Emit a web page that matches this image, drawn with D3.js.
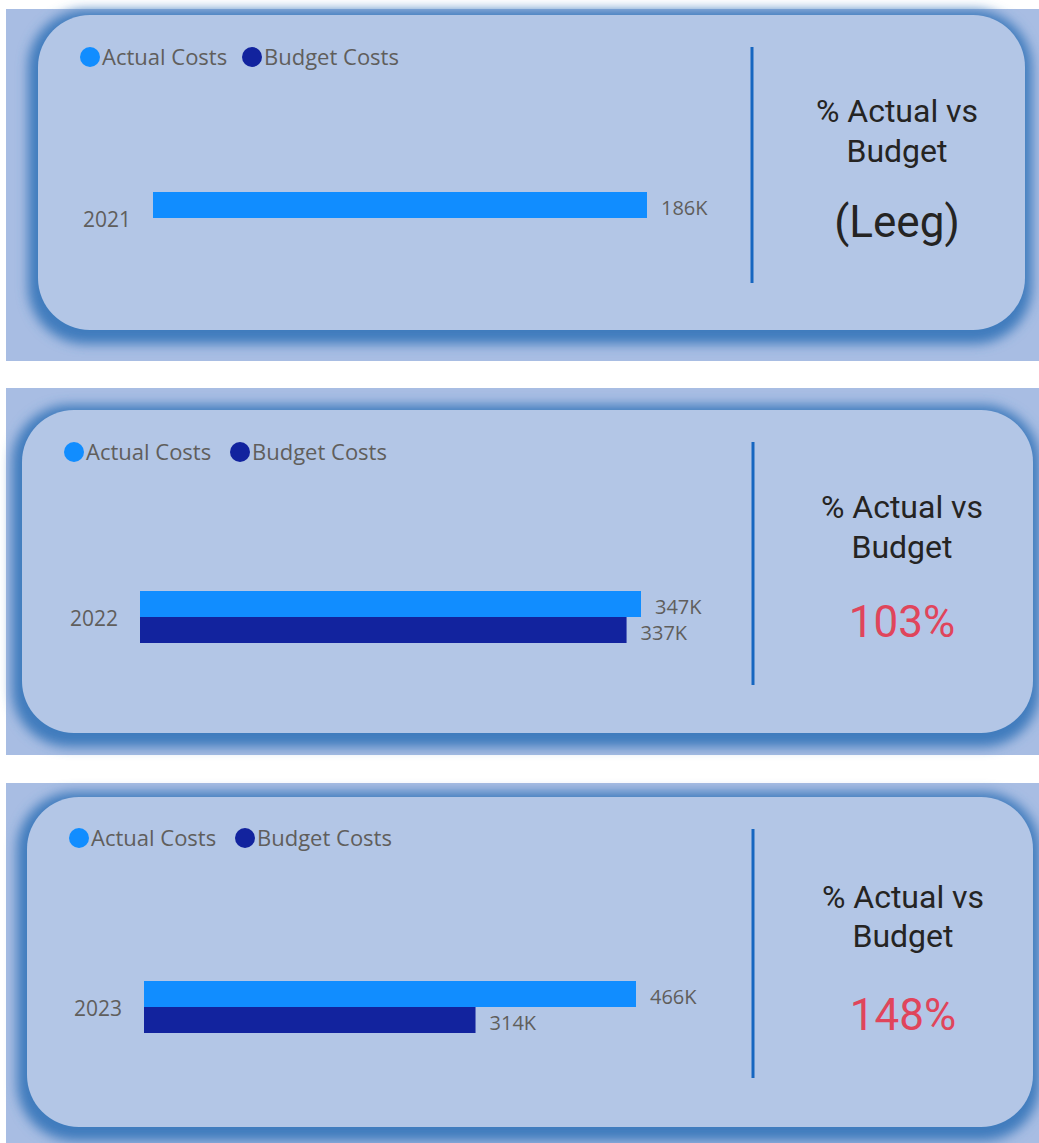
<!DOCTYPE html>
<html>
<head>
<meta charset="utf-8">
<script src="https://cdn.jsdelivr.net/npm/d3@7"></script>
<style>
  body { margin: 0; background: #fff; }
  svg { display: block; }
</style>
</head>
<body>
<div id="chart"></div>
<script>
// data (costs in thousands)
let years = ['2021', '2022', '2023'];
let seriesNames = ['Actual Costs', 'Budget Costs'];
let actualCosts = [186, 347, 466];
let budgetCosts = [null, 337, 314];
let emptyLabel = '(Leeg)';

let width = 1039;
let height = 1143;

let colors = {
  actual: '#118dff',
  budget: '#12239e',
  outer: '#a8bde3',
  card: '#b3c6e6',
  shadow: '#3f7bbd',
  divider: '#1666c0',
  label: '#605e5c',
  title: '#252423',
  pct: '#e0455b'
};

// each card sits a little differently in the screenshot
let panels = [
  {outer: [6, 9, 1033, 352], card: [38, 15, 987, 315], x0: 153, w: 494, band: 192, legX: 90, legY: 57, budX: 252, div: 752, divY: [47, 283], tx: 897, t1: 122, t2: 162, t3: 237},
  {outer: [6, 388, 1033, 367], card: [22, 410, 1011, 323], x0: 140, w: 501, band: 591, legX: 74, legY: 452, budX: 240, div: 753, divY: [442, 685], tx: 902, t1: 518, t2: 558, t3: 637},
  {outer: [6, 783, 1033, 360], card: [27, 797, 1006, 330], x0: 144, w: 492, band: 981, legX: 79, legY: 838, budX: 245, div: 753, divY: [829, 1078], tx: 903, t1: 908, t2: 947, t3: 1030}
];

let svg = d3.select('#chart')
  .append('svg')
  .attr('width', width)
  .attr('height', height);

let defs = svg.append('defs');
defs.append('filter')
  .attr('id', 'glow')
  .attr('x', '-10%').attr('y', '-20%')
  .attr('width', '120%').attr('height', '140%')
  .append('feGaussianBlur')
  .attr('stdDeviation', 6);

years.forEach(function(year, i) {
  let p = panels[i];
  let g = svg.append('g');

  // background strip
  g.append('rect')
    .attr('x', p.outer[0]).attr('y', p.outer[1])
    .attr('width', p.outer[2]).attr('height', p.outer[3])
    .attr('fill', colors.outer);

  // soft dark-blue shadow around the card
  g.append('rect')
    .attr('x', p.card[0] - 10).attr('y', p.card[1] - 5)
    .attr('width', p.card[2] + 17).attr('height', p.card[3] + 19)
    .attr('rx', 58)
    .attr('fill', colors.shadow)
    .attr('filter', 'url(#glow)');

  g.append('rect')
    .attr('x', p.card[0]).attr('y', p.card[1])
    .attr('width', p.card[2]).attr('height', p.card[3])
    .attr('rx', 52)
    .attr('fill', colors.card);

  // legend
  let leg = g.append('g').attr('transform', `translate(0,${p.legY})`);
  [p.legX, p.budX].forEach(function(lx, k) {
    leg.append('circle')
      .attr('cx', lx).attr('cy', 0).attr('r', 10)
      .attr('fill', k === 0 ? colors.actual : colors.budget);
    leg.append('text')
      .attr('x', lx + 12).attr('y', 8)
      .attr('font-family', 'Open Sans, sans-serif')
      .attr('font-size', 22)
      .attr('fill', colors.label)
      .text(seriesNames[k]);
  });

  // bars
  let values = [actualCosts[i], budgetCosts[i]];
  let maxVal = d3.max(values);

  let xScale = d3.scaleLinear()
    .domain([0, maxVal])
    .range([p.x0, p.x0 + p.w]);

  let yOuter = d3.scaleBand()
    .domain([year])
    .range([p.band, p.band + 52]);

  let yInner = d3.scaleBand()
    .domain(seriesNames)
    .range([0, yOuter.bandwidth()]);

  let yAxis = g.append('g')
    .attr('transform', `translate(${p.x0 - 12},0)`)
    .call(d3.axisLeft(yOuter).tickSize(0).tickPadding(10));
  yAxis.select('.domain').remove();
  yAxis.selectAll('text')
    .attr('font-family', 'Open Sans, sans-serif')
    .attr('font-size', 21)
    .attr('dy', '0.45em')
    .attr('fill', colors.label);

  let rows = seriesNames.map(function(s, k) {
    return {series: s, value: values[k], color: k === 0 ? colors.actual : colors.budget};
  }).filter(function(d) { return d.value != null; });

  g.selectAll('rect.bar')
    .data(rows)
    .enter()
    .append('rect')
    .attr('class', 'bar')
    .attr('x', xScale(0))
    .attr('y', function(d) { return yOuter(year) + yInner(d.series); })
    .attr('width', function(d) { return xScale(d.value) - xScale(0); })
    .attr('height', yInner.bandwidth())
    .attr('fill', function(d) { return d.color; });

  g.selectAll('text.val')
    .data(rows)
    .enter()
    .append('text')
    .attr('class', 'val')
    .attr('x', function(d) { return xScale(d.value) + 14; })
    .attr('y', function(d) { return yOuter(year) + yInner(d.series) + yInner.bandwidth() / 2 + 10; })
    .attr('font-family', 'Open Sans, sans-serif')
    .attr('font-size', 20)
    .attr('fill', colors.label)
    .text(function(d) { return d.value + 'K'; });

  // divider
  g.append('line')
    .attr('x1', p.div).attr('x2', p.div)
    .attr('y1', p.divY[0]).attr('y2', p.divY[1])
    .attr('stroke', colors.divider)
    .attr('stroke-width', 3);

  // card KPI
  g.append('text')
    .attr('x', p.tx).attr('y', p.t1)
    .attr('text-anchor', 'middle')
    .attr('font-family', 'Roboto, sans-serif')
    .attr('font-size', 32)
    .attr('fill', colors.title)
    .text('% Actual vs');
  g.append('text')
    .attr('x', p.tx).attr('y', p.t2)
    .attr('text-anchor', 'middle')
    .attr('font-family', 'Roboto, sans-serif')
    .attr('font-size', 32)
    .attr('fill', colors.title)
    .text('Budget');

  let pct = budgetCosts[i] == null ? emptyLabel : Math.round(actualCosts[i] / budgetCosts[i] * 100) + '%';
  g.append('text')
    .attr('x', p.tx).attr('y', p.t3)
    .attr('text-anchor', 'middle')
    .attr('font-family', 'Roboto, sans-serif')
    .attr('font-size', 44)
    .attr('fill', budgetCosts[i] == null ? colors.title : colors.pct)
    .text(pct);
});
</script>
</body>
</html>
